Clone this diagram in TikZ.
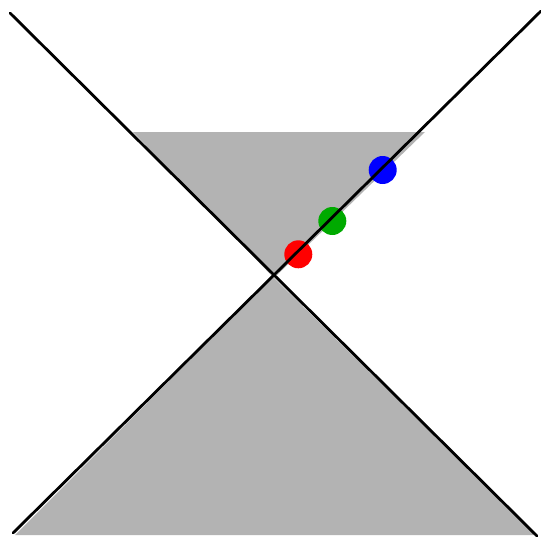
\documentclass[tikz,border=0pt]{standalone}
\definecolor{fillgray}{RGB}{179,179,179}
\definecolor{dotred}{RGB}{255,0,0}
\definecolor{dotgreen}{RGB}{0,170,0}
\definecolor{dotblue}{RGB}{0,0,255}
\tikzset{
  region/.style={fill=fillgray, draw=none},
  ray/.style={draw=black, line width=2.8pt, line cap=round},
  dot/.style={circle, minimum size=28pt, inner sep=0pt, draw=none}
}
\begin{document}
\begin{tikzpicture}[x=1pt,y=-1pt]
\useasboundingbox (0,0) rectangle (541,538);
\fill[white] (0,0) rectangle (541,538);
% gray regions
\fill[region] (133,132) -- (425,132) -- (275,277) -- (273,277) -- cycle;
\fill[region] (273,277) -- (15,535) -- (535,535) -- cycle;
% dots
\node[dot, fill=dotred] (r) at (298.3,254.3) {};
\node[dot, fill=dotgreen] (g) at (332.3,221) {};
\node[dot, fill=dotblue] (b) at (382.7,170) {};
% lines
\coordinate (a1) at (10,13);
\coordinate (a2) at (537,536);
\coordinate (b1) at (13,533);
\coordinate (b2) at (541,11);
\draw[ray] (a1) -- (a2);
\draw[ray] (b1) -- (b2);
\end{tikzpicture}
\end{document}
